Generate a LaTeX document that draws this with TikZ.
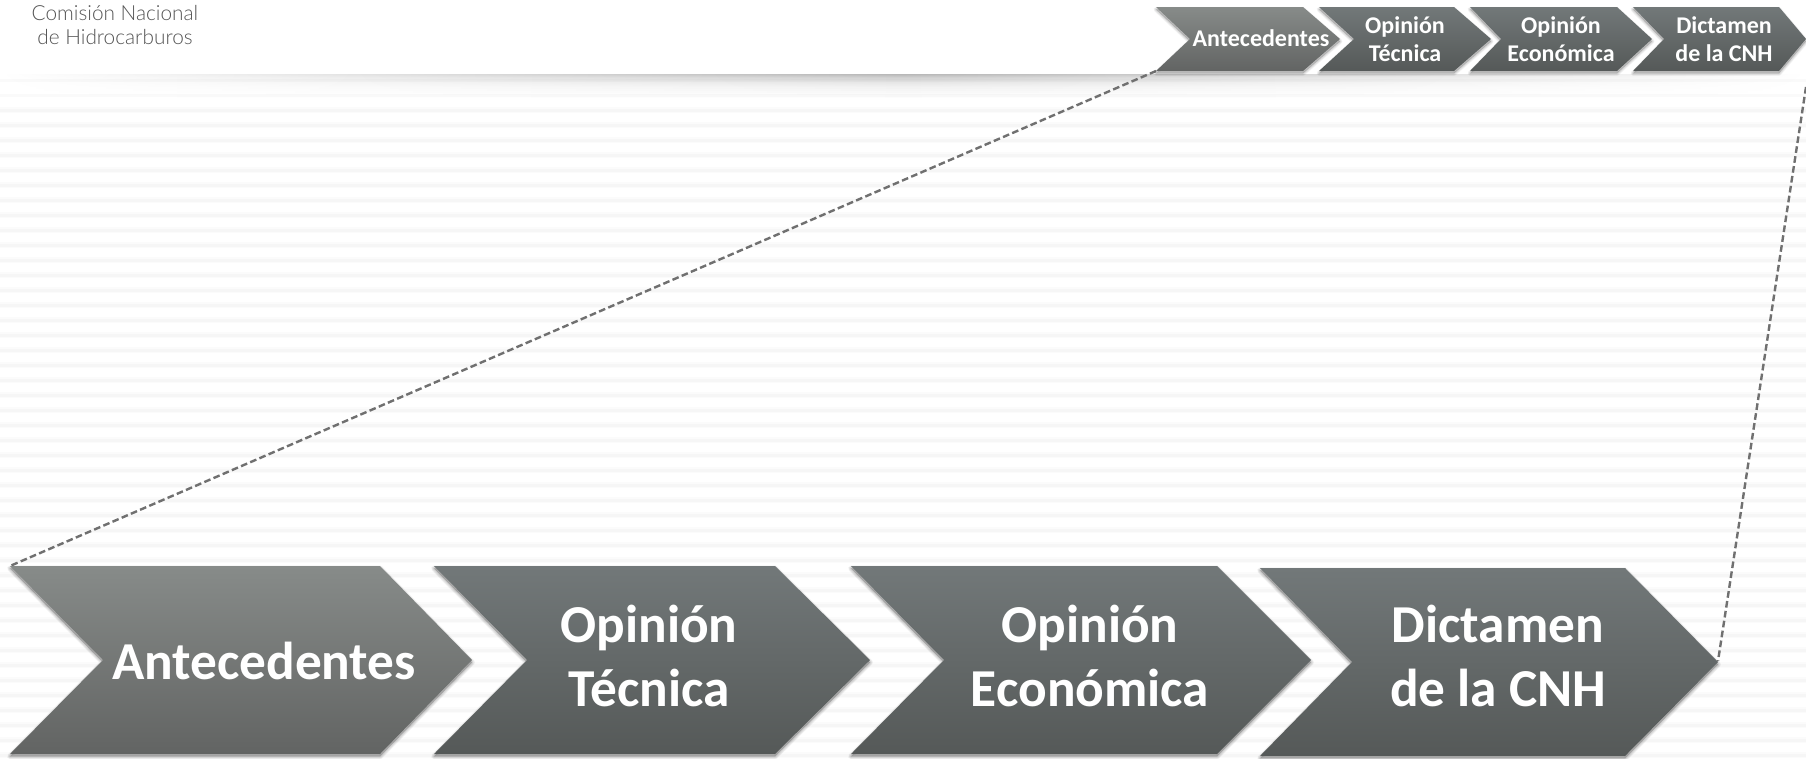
\documentclass[tikz,border=0pt]{standalone}
\usepackage{fontspec}
\setmainfont{Carlito}
\newfontfamily\logofont{Lato Light}
\usetikzlibrary{calc}
\definecolor{stripe}{HTML}{F6F6F6}
\definecolor{stripesoft}{HTML}{FBFBFB}
\definecolor{dashgray}{HTML}{707070}
\definecolor{logogray}{HTML}{555555}
\definecolor{darkTop}{HTML}{727879}
\definecolor{darkBot}{HTML}{555958}
\definecolor{lightTop}{HTML}{878B89}
\definecolor{lightBot}{HTML}{626463}
\tikzset{
  bigtext/.style={text=white,font=\fontsize{40}{48}\selectfont\bfseries,align=center,inner sep=0pt},
  smalltext/.style={text=white,font=\fontsize{18}{21}\selectfont\bfseries,align=center,inner sep=0pt},
  logotext/.style={text=logogray,font=\fontsize{15.6}{17.5}\selectfont\logofont,align=center,inner sep=0pt},
  darkfill/.style={top color=darkTop,bottom color=darkBot,draw=none},
  lightfill/.style={top color=lightTop,bottom color=lightBot,draw=none},
  guide/.style={draw=dashgray,dashed,line width=1.8pt,dash pattern=on 5pt off 2.5pt},
}
% #1 fill style, #2 left, #3 top right, #4 tip, #5 notch, #6 top, #7 bottom, #8 shadow layers
\newcommand{\chevshape}[8]{%
  \foreach \sh in {1,...,#8}{%
    \draw[black,fill=black,opacity=0.035,line join=round,line width=\sh*0.75pt,transform canvas={yshift=-1.8pt}]
      (#2,#6) -- (#3,#6) -- (#4,{(#6+#7)/2}) -- (#3,#7) -- (#2,#7) -- (#5,{(#6+#7)/2}) -- cycle;}%
  \path[#1] (#2,#6) -- (#3,#6) -- (#4,{(#6+#7)/2}) -- (#3,#7) -- (#2,#7) -- (#5,{(#6+#7)/2}) -- cycle;
}
\begin{document}
\begin{tikzpicture}[x=0.75pt,y=-0.75pt]
\useasboundingbox (0,0) rectangle (1806,758);
\fill[white] (0,0) rectangle (1806,758);
% background stripes
\foreach \yy in {110,125,...,755}{
  \fill[stripesoft] (0,\yy-3) rectangle (1806,\yy+3);
  \fill[stripe] (0,\yy-1.5) rectangle (1806,\yy+1.5);
}
% header and its shadow
\fill[white] (0,0) rectangle (1806,74);
\foreach \k/\p in {0/28,1/25,2/22,3/19,4/17,5/15,6/13,7/11,8/10,9/9,10/8,11/7,12/6,13/5,14/5,15/4,16/4,17/3,18/3,19/2,20/2,21/1,22/1}{
  \shade[left color=white,right color=white,middle color=black!\p!white,shading angle=90]
    (0,74+\k) rectangle (1806,75.2+\k);
}
\foreach \yy in {80,95}{
  \fill[black,opacity=0.02] (0,\yy-1.5) rectangle (1806,\yy+1.5);
}
% named anchors for the guide lines
\coordinate (smallAcorner) at (1156,71);
\coordinate (bigAcorner) at (10,566);
\coordinate (guideTop) at (1806,87);
\coordinate (bigDtip) at (1718,661);
\draw[guide] (smallAcorner) -- (bigAcorner);
\draw[guide] (guideTop) -- (bigDtip);
\node[logotext] (logo) at (115,25) {Comisión Nacional\\de Hidrocarburos};
% large chevrons
\chevshape{lightfill}{10}{380}{472}{103}{566}{754}{6}
\chevshape{darkfill}{434}{775}{870}{527}{566}{754}{6}
\chevshape{darkfill}{851}{1217}{1311}{944}{566}{754}{6}
\chevshape{darkfill}{1260}{1625}{1718}{1352}{568}{756}{6}
\node[bigtext] (bigA) at (264,661) {Antecedentes};
\node[bigtext] (bigB) at (649,656) {Opinión\\Técnica};
\node[bigtext] (bigC) at (1090,656) {Opinión\\Económica};
\node[bigtext] (bigD) at (1498,656) {Dictamen\\de la CNH};
% small chevrons
\chevshape{lightfill}{1156}{1303}{1340}{1190}{7}{71}{5}
\chevshape{darkfill}{1319}{1454}{1491}{1354}{7}{71}{5}
\chevshape{darkfill}{1470}{1617}{1652}{1501}{7}{71}{5}
\chevshape{darkfill}{1633}{1779}{1806}{1664}{7}{71}{5}
\node[smalltext] (smallA) at (1261,38) {Antecedentes};
\node[smalltext] (smallB) at (1405,39) {Opinión\\Técnica};
\node[smalltext] (smallC) at (1561,39) {Opinión\\Económica};
\node[smalltext] (smallD) at (1724,39) {Dictamen\\de la CNH};
\end{tikzpicture}
\end{document}
